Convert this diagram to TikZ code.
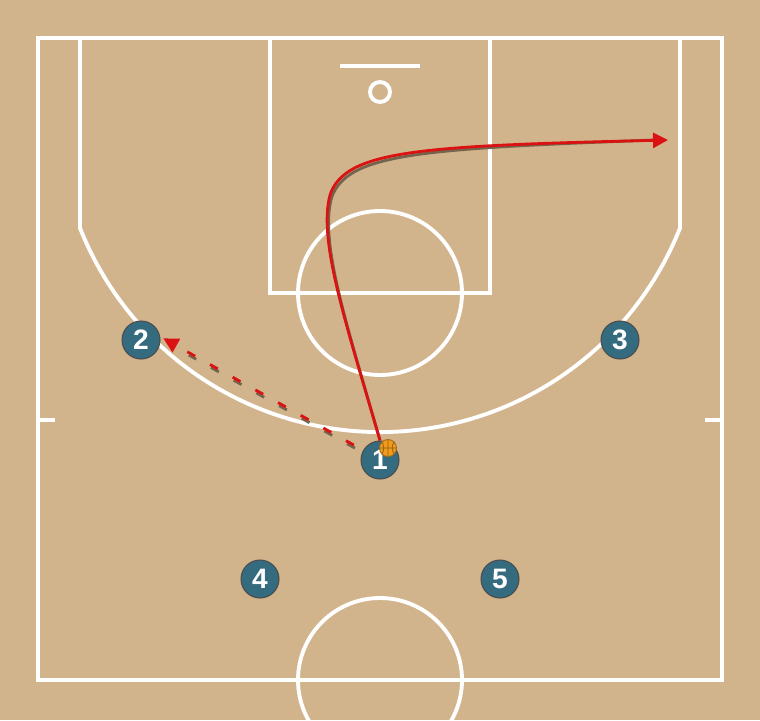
\documentclass[tikz,border=0pt]{standalone}
\usepackage{fontspec}
\setsansfont{Liberation Sans}
\definecolor{court_tan}{RGB}{210, 180, 140}
\definecolor{player_teal}{RGB}{52, 107, 127}
\definecolor{cut_red}{RGB}{218, 18, 18}
\definecolor{ball_orange}{RGB}{240, 155, 30}
\usetikzlibrary{arrows.meta, positioning, calc}
\tikzset{
  courtline/.style={white, line width=2.2pt},
  player/.style={circle, draw=black!70, line width=0.6pt, fill=player_teal,
    minimum size=0.76cm, inner sep=0pt, text=white,
    font=\sffamily\bfseries\fontsize{16}{16}\selectfont},
  cutpath/.style={cut_red, line width=1.6pt, -{Triangle[length=0.3cm, width=0.3cm]}},
  passpath/.style={cut_red, line width=1.6pt, dash pattern=on 0.18cm off 0.34cm,
    -{Triangle[length=0.3cm, width=0.3cm]}},
  shadowpath/.style={black!45!court_tan, line width=1.6pt}
}
\begin{document}
\begin{tikzpicture}[x=0.02cm, y=-0.02cm]
        % --- Floor ---
        \useasboundingbox (0,0) rectangle (760,720);
        \fill[court_tan] (0,0) rectangle (760,720);
        \clip (0,0) rectangle (760,720);

        % --- Court lines ---
        \draw[courtline] (38,38) rectangle (722,680);
        \draw[courtline] (270,38) rectangle (490,293);
        \draw[courtline] (380,293) circle[radius=82];
        \draw[courtline] (380,680) circle[radius=82];
        \draw[courtline] (340,66) -- (420,66);
        \draw[courtline] (380,92) circle[radius=10];
        \draw[courtline] (80,38) -- (80,228)
          arc[start angle=158.43, end angle=21.57, radius=322.6] -- (680,38);
        \draw[courtline] (38,420) -- (55,420);
        \draw[courtline] (705,420) -- (722,420);

        % --- Players ---
        \node[player] (p1) at (380,460) {1};
        \node[player] (p2) at (141,340) {2};
        \node[player] (p3) at (620,340) {3};
        \node[player] (p4) at (260,579) {4};
        \node[player] (p5) at (500,579) {5};

        % --- Ball ---
        \node[circle, draw=ball_orange!70!black, fill=ball_orange, line width=0.5pt,
              minimum size=0.34cm, inner sep=0pt] (ball) at (388,448) {};
        \draw[ball_orange!60!black, line width=0.4pt]
          (ball.north) -- (ball.south) (ball.west) -- (ball.east)
          (ball.north west) to[bend left=35] (ball.south west)
          (ball.north east) to[bend right=35] (ball.south east);

        % --- Pass 1 -> 2 ---
        \draw[shadowpath, dash pattern=on 0.18cm off 0.34cm, shorten <=6, shorten >=18]
          ($(p1.150)+(1,3)$) -- ($(p2.10)+(1,3)$);
        \draw[passpath, shorten <=6, shorten >=2] (p1.150) -- (p2.10);

        % --- Cut of 1 ---
        \coordinate (cutend) at (668,140);
        \draw[shadowpath, shift={(1.5,3)}] (p1.north) .. controls (345,320) and (318,240) ..
          (330,195) .. controls (345,150) and (420,146) .. ($(cutend)+(-14,0)$);
        \draw[cutpath] (p1.north) .. controls (345,320) and (318,240) ..
          (330,195) .. controls (345,150) and (420,146) .. (cutend);
      \end{tikzpicture}
\end{document}
